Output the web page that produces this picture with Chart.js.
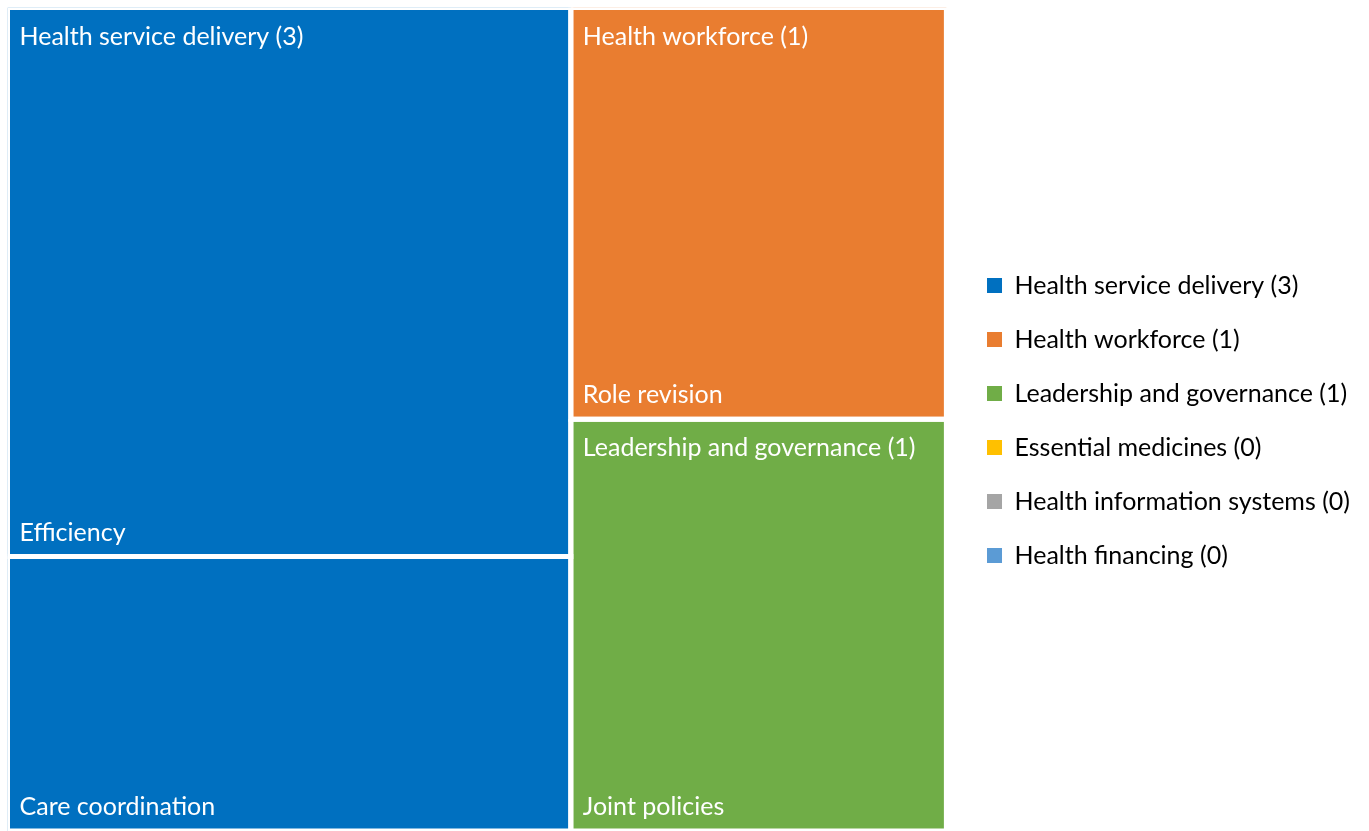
<!DOCTYPE html>
<html>
<head>
<meta charset="utf-8">
<script src="https://cdn.jsdelivr.net/npm/chart.js@4.4.1/dist/chart.umd.min.js"></script>
<style>
    html, body { margin: 0; padding: 0; background: #fff; }
    #wrap { width: 1369px; height: 831px; }
</style>
</head>
<body>
<div id="wrap"><canvas id="treeChart"></canvas></div>
<script>
// Building blocks (legend order) and how many items fall into each
const groupNames = ['Health service delivery', 'Health workforce', 'Leadership and governance',
    'Essential medicines', 'Health information systems', 'Health financing'];
const groupCounts = [3, 1, 1, 0, 0, 0];
const groupColors = ['#0070C0', '#E97D30', '#70AD47', '#FFC000', '#A5A5A5', '#5B9BD5'];

// Leaf items inside the building blocks
const leafNames = ['Efficiency', 'Care coordination', 'Role revision', 'Joint policies'];
const leafGroup = [0, 0, 1, 2];
const leafValues = [2, 1, 1, 1];

// Tree area in axis units (height 1), plus a little room before the legend
const TREE_W = 1.13;
const X_MAX = 1.144;
const FONT = 'Lato, "Open Sans", sans-serif';
const FONT_SIZE = 25;

// Squarified treemap layout of values into a rectangle
function worst(row, side) {
    const s = row.reduce((a, b) => a + b, 0);
    const max = Math.max(...row), min = Math.min(...row);
    return Math.max(side * side * max / (s * s), (s * s) / (side * side * min));
}

function squarify(values, rect) {
    const total = values.reduce((a, b) => a + b, 0);
    const areas = values.map(v => v * rect.w * rect.h / total);
    const out = [];
    let r = { ...rect };
    let i = 0;
    while (i < areas.length) {
        const side = Math.min(r.w, r.h);
        const row = [areas[i]];
        let j = i + 1;
        while (j < areas.length && worst([...row, areas[j]], side) <= worst(row, side)) {
            row.push(areas[j]);
            j++;
        }
        const s = row.reduce((a, b) => a + b, 0);
        if (r.w >= r.h) {
            const cw = s / r.h;
            let cy = r.y;
            row.forEach(a => { out.push({ x: r.x, y: cy, w: cw, h: a / cw }); cy += a / cw; });
            r = { x: r.x + cw, y: r.y, w: r.w - cw, h: r.h };
        } else {
            const rh = s / r.w;
            let cx = r.x;
            row.forEach(a => { out.push({ x: cx, y: r.y, w: a / rh, h: rh }); cx += a / rh; });
            r = { x: r.x, y: r.y + rh, w: r.w, h: r.h - rh };
        }
        i = j;
    }
    return out;
}

// Lay out the non-empty groups, then the leaves inside each group
const usedGroups = groupCounts.map((c, g) => g).filter(g => groupCounts[g] > 0);
const groupTotals = usedGroups.map(g =>
    leafValues.filter((v, i) => leafGroup[i] === g).reduce((a, b) => a + b, 0));
const groupRects = {};
squarify(groupTotals, { x: 0, y: 0, w: TREE_W, h: 1 }).forEach((r, k) => {
    groupRects[usedGroups[k]] = r;
});

const leafRects = [];
usedGroups.forEach(g => {
    const idx = leafGroup.map((lg, i) => i).filter(i => leafGroup[i] === g);
    const rects = squarify(idx.map(i => leafValues[i]), groupRects[g]);
    idx.forEach((i, k) => { leafRects[i] = rects[k]; });
});

// One closed filled line per leaf
const datasets = leafNames.map((name, i) => {
    const r = leafRects[i];
    return {
        label: name,
        data: [
            { x: r.x, y: r.y }, { x: r.x + r.w, y: r.y },
            { x: r.x + r.w, y: r.y + r.h }, { x: r.x, y: r.y + r.h },
            { x: r.x, y: r.y }
        ],
        showLine: true,
        fill: 'shape',
        backgroundColor: groupColors[leafGroup[i]],
        borderColor: '#ffffff',
        borderWidth: 5,
        borderJoinStyle: 'miter',
        pointRadius: 0,
        pointHoverRadius: 0,
        tension: 0
    };
});

// Writes the block name at the top and the leaf name at the bottom of each tile
const tileLabels = {
    id: 'tileLabels',
    afterDatasetsDraw(chart) {
        const { ctx, scales: { x, y } } = chart;
        ctx.save();
        ctx.fillStyle = '#ffffff';
        ctx.font = FONT_SIZE + 'px ' + FONT;
        ctx.textAlign = 'left';
        ctx.textBaseline = 'alphabetic';
        usedGroups.forEach(g => {
            const r = groupRects[g];
            ctx.fillText(groupNames[g] + ' (' + groupCounts[g] + ')',
                x.getPixelForValue(r.x) + 12, y.getPixelForValue(r.y) + 37);
        });
        leafNames.forEach((name, i) => {
            const r = leafRects[i];
            ctx.fillText(name, x.getPixelForValue(r.x) + 12, y.getPixelForValue(r.y + r.h) - 16);
        });
        ctx.restore();
    }
};

new Chart(document.getElementById('treeChart'), {
    type: 'scatter',
    data: { datasets },
    plugins: [tileLabels],
    options: {
        responsive: true,
        maintainAspectRatio: false,
        animation: false,
        layout: { padding: { left: 7.5, top: 7.5, bottom: -2.5, right: 9 } },
        scales: {
            x: { type: 'linear', min: 0, max: X_MAX, display: false },
            y: { type: 'linear', min: 0, max: 1, reverse: true, display: false }
        },
        plugins: {
            filler: { drawTime: 'beforeDatasetsDraw' },
            tooltip: { enabled: false },
            legend: {
                display: true,
                position: 'right',
                onClick: null,
                labels: {
                    color: '#595959',
                    font: { family: FONT, size: FONT_SIZE },
                    boxWidth: 15,
                    boxHeight: 15,
                    padding: 29,
                    generateLabels: () => groupNames.map((name, g) => ({
                        text: name + ' (' + groupCounts[g] + ')',
                        fillStyle: groupColors[g],
                        strokeStyle: groupColors[g],
                        lineWidth: 0,
                        hidden: false
                    }))
                }
            }
        }
    }
});
</script>
</body>
</html>
